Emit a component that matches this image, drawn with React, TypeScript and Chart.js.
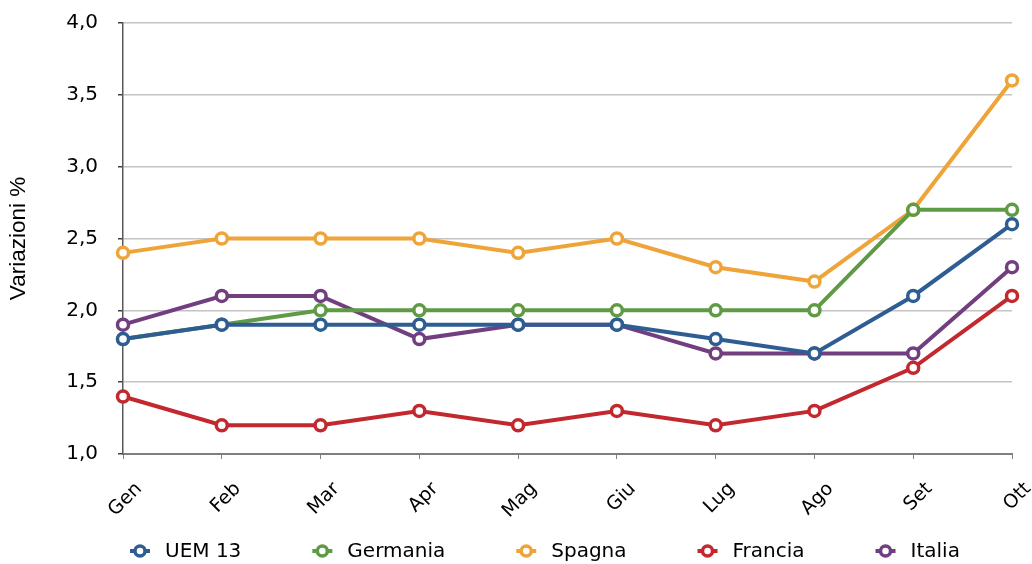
import React, { useEffect, useRef } from "react";
import { Chart, registerables } from "chart.js";

Chart.register(...registerables);

const months = ["Gen", "Feb", "Mar", "Apr", "Mag", "Giu", "Lug", "Ago", "Set", "Ott"];
const uem13 = [1.8, 1.9, 1.9, 1.9, 1.9, 1.9, 1.8, 1.7, 2.1, 2.6];
const germania = [1.8, 1.9, 2.0, 2.0, 2.0, 2.0, 2.0, 2.0, 2.7, 2.7];
const spagna = [2.4, 2.5, 2.5, 2.5, 2.4, 2.5, 2.3, 2.2, 2.7, 3.6];
const francia = [1.4, 1.2, 1.2, 1.3, 1.2, 1.3, 1.2, 1.3, 1.6, 2.1];
const italia = [1.9, 2.1, 2.1, 1.8, 1.9, 1.9, 1.7, 1.7, 1.7, 2.3];

const seriesNames = ["UEM 13", "Germania", "Spagna", "Francia", "Italia"];
const seriesColors = ["#2D5D93", "#5F9A45", "#EFA43A", "#C2282E", "#713F80"];
const seriesData = [uem13, germania, spagna, francia, italia];

const FONT = "'DejaVu Sans', sans-serif";

const legendPlugin = {
  id: "customLegend",
  afterDraw(chart: any) {
    const ctx = chart.ctx;
    ctx.save();
    ctx.font = `20px ${FONT}`;
    ctx.textBaseline = "middle";
    ctx.textAlign = "left";
    let x = 130;
    const y = 551;
    chart.data.datasets.forEach((ds: any) => {
      ctx.strokeStyle = ds.borderColor;
      ctx.lineWidth = 4;
      ctx.beginPath();
      ctx.moveTo(x, y);
      ctx.lineTo(x + 20, y);
      ctx.stroke();
      ctx.fillStyle = "#ffffff";
      ctx.lineWidth = 3.5;
      ctx.beginPath();
      ctx.arc(x + 10, y, 5, 0, Math.PI * 2);
      ctx.fill();
      ctx.stroke();
      ctx.fillStyle = "#000000";
      ctx.fillText(ds.label, x + 35, y + 1);
      const w = ctx.measureText(ds.label).width;
      x = x + 35 + w + 71;
    });
    ctx.restore();
  },
};

export default function App() {
  const ref = useRef<HTMLCanvasElement | null>(null);
  useEffect(() => {
    if (!ref.current) return;
    const chart = new Chart(ref.current, {
      type: "line",
      data: {
        labels: months,
        datasets: seriesNames.map((name, i) => ({
          label: name,
          data: seriesData[i],
          borderColor: seriesColors[i],
          backgroundColor: "#ffffff",
          borderWidth: 4,
          pointRadius: 5.5,
          pointBorderWidth: 3.5,
          pointBackgroundColor: "#ffffff",
          pointBorderColor: seriesColors[i],
          tension: 0,
          clip: false as any,
        })),
      },
      options: {
        responsive: false,
        animation: false,
        layout: { padding: { left: 0, right: 20, top: 23, bottom: 0 } },
        plugins: {
          legend: { display: false },
          tooltip: { enabled: false },
        },
        scales: {
          x: {
            offset: false,
            grid: {
              drawOnChartArea: false,
              drawTicks: true,
              tickLength: 5,
              tickColor: "#7f7f7f",
            },
            border: { color: "#7f7f7f", width: 2 },
            ticks: {
              autoSkip: false,
              minRotation: 45,
              maxRotation: 45,
              labelOffset: 16,
              padding: 19,
              color: "#000000",
              font: { family: FONT, size: 19 },
            },
            afterFit: (s: any) => {
              s.height = 110;
              s.paddingLeft = 0;
              s.paddingRight = 0;
            },
          },
          y: {
            min: 1,
            max: 4,
            grid: {
              color: "#c4c4c4",
              lineWidth: 1.5,
              tickLength: 5,
              tickColor: "#404040",
            },
            border: { color: "#595959", width: 1.5 },
            ticks: {
              stepSize: 0.5,
              padding: 20,
              color: "#000000",
              font: { family: FONT, size: 20 },
              callback: (v: any) => Number(v).toFixed(1).replace(".", ","),
            },
            title: {
              display: true,
              text: "Variazioni %",
              color: "#000000",
              font: { family: "'Liberation Sans', Arial, sans-serif", size: 22.5 },
              padding: { top: 5, bottom: 0 },
            },
            afterFit: (s: any) => {
              s.width = 123;
              s.paddingTop = 0;
              s.paddingBottom = 0;
            },
          },
        },
      },
      plugins: [legendPlugin],
    });
    return () => chart.destroy();
  }, []);
  return (
    <div style={{ position: "absolute", left: 0, top: 0, width: 1032, height: 564, background: "#fff" }}>
      <canvas ref={ref} width={1032} height={564} />
    </div>
  );
}
